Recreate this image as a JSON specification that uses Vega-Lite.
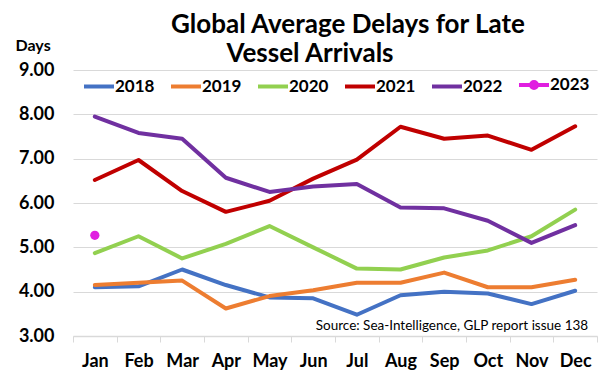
{
  "$schema": "https://vega.github.io/schema/vega-lite/v6.json",
  "autosize": {"type": "none"},
  "width": 524,
  "height": 266,
  "padding": {"left": 73, "top": 70, "right": 3, "bottom": 49},
  "background": "white",
  "title": {
    "text": ["\u2800\u2800\u2800\u2800Global Average Delays for Late", "Vessel Arrivals"],
    "font": "Lato",
    "fontSize": 26,
    "fontWeight": "bold",
    "color": "black",
    "anchor": "middle",
    "frame": "group",
    "dx": -25,
    "lineHeight": 29,
    "offset": -30
  },
  "data": {
    "values": [
      {"month": "Jan", "year": "2018", "days": 4.10},
      {"month": "Feb", "year": "2018", "days": 4.12},
      {"month": "Mar", "year": "2018", "days": 4.50},
      {"month": "Apr", "year": "2018", "days": 4.15},
      {"month": "May", "year": "2018", "days": 3.87},
      {"month": "Jun", "year": "2018", "days": 3.85},
      {"month": "Jul", "year": "2018", "days": 3.48},
      {"month": "Aug", "year": "2018", "days": 3.92},
      {"month": "Sep", "year": "2018", "days": 4.00},
      {"month": "Oct", "year": "2018", "days": 3.96},
      {"month": "Nov", "year": "2018", "days": 3.72},
      {"month": "Dec", "year": "2018", "days": 4.02},
      {"month": "Jan", "year": "2019", "days": 4.15},
      {"month": "Feb", "year": "2019", "days": 4.20},
      {"month": "Mar", "year": "2019", "days": 4.25},
      {"month": "Apr", "year": "2019", "days": 3.62},
      {"month": "May", "year": "2019", "days": 3.90},
      {"month": "Jun", "year": "2019", "days": 4.03},
      {"month": "Jul", "year": "2019", "days": 4.20},
      {"month": "Aug", "year": "2019", "days": 4.20},
      {"month": "Sep", "year": "2019", "days": 4.43},
      {"month": "Oct", "year": "2019", "days": 4.10},
      {"month": "Nov", "year": "2019", "days": 4.10},
      {"month": "Dec", "year": "2019", "days": 4.27},
      {"month": "Jan", "year": "2020", "days": 4.87},
      {"month": "Feb", "year": "2020", "days": 5.25},
      {"month": "Mar", "year": "2020", "days": 4.75},
      {"month": "Apr", "year": "2020", "days": 5.08},
      {"month": "May", "year": "2020", "days": 5.48},
      {"month": "Jun", "year": "2020", "days": 5.00},
      {"month": "Jul", "year": "2020", "days": 4.52},
      {"month": "Aug", "year": "2020", "days": 4.50},
      {"month": "Sep", "year": "2020", "days": 4.77},
      {"month": "Oct", "year": "2020", "days": 4.93},
      {"month": "Nov", "year": "2020", "days": 5.25},
      {"month": "Dec", "year": "2020", "days": 5.85},
      {"month": "Jan", "year": "2021", "days": 6.52},
      {"month": "Feb", "year": "2021", "days": 6.97},
      {"month": "Mar", "year": "2021", "days": 6.27},
      {"month": "Apr", "year": "2021", "days": 5.80},
      {"month": "May", "year": "2021", "days": 6.05},
      {"month": "Jun", "year": "2021", "days": 6.55},
      {"month": "Jul", "year": "2021", "days": 6.98},
      {"month": "Aug", "year": "2021", "days": 7.72},
      {"month": "Sep", "year": "2021", "days": 7.45},
      {"month": "Oct", "year": "2021", "days": 7.52},
      {"month": "Nov", "year": "2021", "days": 7.20},
      {"month": "Dec", "year": "2021", "days": 7.73},
      {"month": "Jan", "year": "2022", "days": 7.95},
      {"month": "Feb", "year": "2022", "days": 7.58},
      {"month": "Mar", "year": "2022", "days": 7.45},
      {"month": "Apr", "year": "2022", "days": 6.57},
      {"month": "May", "year": "2022", "days": 6.25},
      {"month": "Jun", "year": "2022", "days": 6.37},
      {"month": "Jul", "year": "2022", "days": 6.43},
      {"month": "Aug", "year": "2022", "days": 5.90},
      {"month": "Sep", "year": "2022", "days": 5.88},
      {"month": "Oct", "year": "2022", "days": 5.60},
      {"month": "Nov", "year": "2022", "days": 5.10},
      {"month": "Dec", "year": "2022", "days": 5.50},
      {"month": "Jan", "year": "2023", "days": 5.27}
    ]
  },
  "encoding": {
    "x": {
      "field": "month",
      "type": "nominal",
      "sort": ["Jan", "Feb", "Mar", "Apr", "May", "Jun", "Jul", "Aug", "Sep", "Oct", "Nov", "Dec"],
      "scale": {"type": "band", "paddingInner": 0, "paddingOuter": 0},
      "axis": {
        "title": null,
        "labelAngle": 0,
        "labelFont": "Lato",
        "labelFontSize": 18,
        "labelFontWeight": "bold",
        "labelColor": "black",
        "labelPadding": 10,
        "domainColor": "#d9d9d9",
        "domainWidth": 1.5,
        "ticks": true,
        "tickBand": "extent",
        "tickColor": "#d9d9d9",
        "tickSize": 6,
        "grid": false
      }
    },
    "y": {
      "field": "days",
      "type": "quantitative",
      "scale": {"domain": [3, 9], "nice": false, "zero": false},
      "axis": {
        "values": [3, 4, 5, 6, 7, 8, 9],
        "format": ".2f",
        "labelFont": "Lato",
        "labelFontSize": 18,
        "labelFontWeight": "bold",
        "labelColor": "black",
        "labelPadding": 19,
        "domain": false,
        "ticks": false,
        "grid": true,
        "gridColor": "#d9d9d9",
        "gridWidth": 1,
        "title": "Days",
        "titleAngle": 0,
        "titleFont": "Lato",
        "titleFontSize": 16,
        "titleFontWeight": "bold",
        "titleColor": "black",
        "titleAlign": "left",
        "titleBaseline": "middle",
        "titleX": -58,
        "titleY": -25
      }
    }
  },
  "layer": [
    {
      "mark": {"type": "line", "strokeWidth": 4, "strokeJoin": "round", "strokeCap": "round"},
      "encoding": {
        "color": {
          "field": "year",
          "type": "nominal",
          "scale": {
            "domain": ["2018", "2019", "2020", "2021", "2022", "2023"],
            "range": ["#4472C4", "#ED7D31", "#92D050", "#C00000", "#7030A0", "#E01FE0"]
          },
          "legend": {
            "orient": "none",
            "legendX": 9,
            "legendY": -2,
            "direction": "horizontal",
            "title": null,
            "padding": 0,
            "symbolType": "stroke",
            "symbolSize": 900,
            "symbolStrokeWidth": 4,
            "labelFont": "Lato",
            "labelFontSize": 17,
            "labelFontWeight": "bold",
            "labelColor": "black",
            "labelOffset": -1,
            "columnPadding": 8,
            "encode": {
              "symbols": {
                "update": {
                  "shape": {"signal": "datum.value === '2023' ? 'M-1,0L1,0M0,-0.2A0.2,0.2,0,1,1,0,0.2A0.2,0.2,0,1,1,0,-0.2Z' : 'stroke'"},
                  "fill": {"signal": "datum.value === '2023' ? '#E01FE0' : 'transparent'"}
                }
              }
            }
          }
        }
      }
    },
    {
      "transform": [{"filter": "datum.year === '2023'"}],
      "mark": {"type": "point", "filled": true, "size": 85, "opacity": 1, "color": "#E01FE0"}
    },
    {
      "data": {"values": [{"label": "Source: Sea-Intelligence, GLP report issue 138", "month": "Dec", "days": 3.22}]},
      "mark": {"type": "text", "align": "right", "baseline": "middle", "dx": 13, "font": "Lato", "fontSize": 13.5, "color": "black"},
      "encoding": {
        "text": {"field": "label"}
      }
    }
  ],
  "config": {
    "view": {"stroke": null}
  }
}
